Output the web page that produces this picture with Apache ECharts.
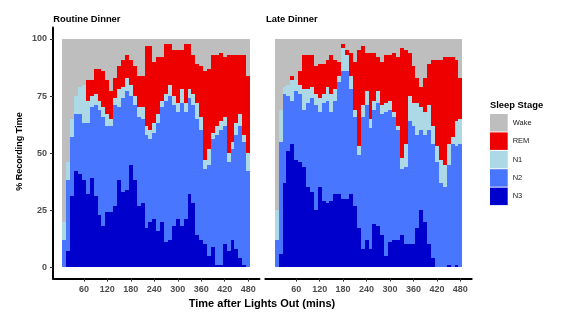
<!DOCTYPE html>
<html><head><meta charset="utf-8">
<script src="https://cdn.jsdelivr.net/npm/echarts@6/dist/echarts.min.js"></script>
<style>html,body{margin:0;padding:0;background:#fff}#c{width:561px;height:322px}</style>
</head><body><div id="c"></div>
<script>
// Time bins (minutes after lights out, bin centres, 10-min bins)
const timeMins = [10,20,30,40,50,60,70,80,90,100,110,120,130,140,150,160,170,180,190,200,210,220,230,240,250,260,270,280,290,300,310,320,330,340,350,360,370,380,390,400,410,420,430,440,450,460,470,480];
const xTickLabels = [60,120,180,240,300,360,420,480];
const yTickLabels = [0,25,50,75,100];
const panelTitles = ['Routine Dinner','Late Dinner'];
const stageNames = ['Wake','REM','N1','N2','N3'];

// Routine Dinner (% recording time per bin)
const routineN3 = [0,7,31,42,41,38,32,39,31,23,18,24,24,27,38,33,34,45,38,27,28,17,20,21,16,20,11,12,18,21,18,21,32,28,14,12,10,5,9,1,1,10,7,12,8,4,1,0];
const routineN2 = [12,31,26,25,26,25,31,31,40,46,48,38,38,44,32,41,43,30,33,39,37,41,36,38,47,50,62,63,53,47,54,47,42,43,51,48,33,40,47,57,59,52,39,40,50,58,54,42];
const routineN1 = [8,8,8,8,12,17,10,5,5,4,4,5,3,3,8,5,6,5,4,4,5,4,4,4,4,3,3,5,4,4,6,4,4,5,7,6,4,7,3,4,4,4,4,3,5,5,3,8];
const routineREM = [0,0,0,0,0,0,9,7,11,14,16,15,12,9,10,12,10,11,13,14,14,35,37,27,25,19,22,18,20,23,17,26,20,17,17,22,39,35,34,31,30,26,43,38,30,26,35,34];
const routineWake = [80,54,35,25,21,20,18,18,13,13,14,18,23,17,12,9,7,9,12,16,16,3,3,10,8,8,2,2,5,5,5,2,2,7,11,12,14,13,7,7,6,8,7,7,7,7,7,16];

// Late Dinner
const lateN3 = [0,6,37,51,54,47,46,44,35,33,25,35,29,28,29,32,32,30,30,32,27,17,8,12,8,19,18,14,5,11,12,12,14,10,10,10,17,25,20,10,4,0,0,0,1,0,1,0];
const lateN2 = [12,49,39,24,19,30,30,25,37,41,46,33,43,45,39,41,49,56,56,46,39,32,58,59,53,50,54,53,63,58,54,48,29,34,54,52,41,35,38,50,50,46,37,35,44,54,52,54];
const lateN1 = [13,14,3,5,9,5,4,9,6,5,5,6,4,6,8,5,3,10,7,6,3,4,5,6,4,4,5,4,4,4,2,2,5,10,11,10,14,10,10,11,8,7,10,10,9,3,11,11];
const lateREM = [0,0,0,0,2,0,6,15,15,14,12,15,13,12,17,13,6,2,2,10,21,42,26,17,29,21,15,19,21,20,26,30,48,41,19,16,11,9,15,18,29,38,44,47,38,35,27,18];
const lateWake = [75,31,21,20,16,18,14,7,7,7,12,11,11,9,7,9,10,2,5,6,10,5,3,6,6,6,8,10,7,7,6,8,4,5,6,12,17,21,17,11,9,9,9,8,8,8,9,17];

const stageColors = {Wake:'#BEBEBE', REM:'#EE0000', N1:'#ADD8E6', N2:'#4876FF', N3:'#0000CD'};
const FONT = '"Liberation Sans", Arial, sans-serif';
const HALF_BIN = 5;

const panels = [
  {N3:routineN3, N2:routineN2, N1:routineN1, REM:routineREM, Wake:routineWake},
  {N3:lateN3, N2:lateN2, N1:lateN1, REM:lateREM, Wake:lateWake}
];

function renderItem(params, api) {
  const t = api.value(0), lo = api.value(1), hi = api.value(2);
  if (hi <= lo) return null;
  const p0 = api.coord([t - HALF_BIN, lo]);
  const p1 = api.coord([t + HALF_BIN, hi]);
  const x0 = Math.round(p0[0]), x1 = Math.round(p1[0]);
  const y0 = Math.round(p0[1]), y1 = Math.round(p1[1]);
  return {type:'rect', shape:{x:x0, y:y1, width:x1 - x0, height:y0 - y1},
          style:{fill: api.visual('color')}};
}

const series = [];
const stackOrder = ['N3','N2','N1','REM','Wake'];
panels.forEach((p, pi) => {
  const cum = timeMins.map(() => 0);
  stackOrder.forEach(stage => {
    const data = timeMins.map((t, i) => {
      const lo = cum[i];
      const hi = lo + p[stage][i];
      cum[i] = hi;
      return [t, lo, hi];
    });
    series.push({
      type:'custom', name:stage, xAxisIndex:pi, yAxisIndex:pi,
      renderItem, data, encode:{x:0, y:[1,2]},
      itemStyle:{color:stageColors[stage]}, silent:true, animation:false
    });
  });
});

const labelStyle = {color:'#4D4D4D', fontSize:9, fontWeight:'bold', fontFamily:FONT};

function xAxis(gi) {
  return {
    type:'value', gridIndex:gi, min:-19, max:509,
    axisLine:{show:true, onZero:false, lineStyle:{color:'#000', width:2}},
    axisTick:{show:true, customValues:xTickLabels, length:3, lineStyle:{color:'#333', width:1}},
    splitLine:{show:false},
    axisLabel:Object.assign({customValues:xTickLabels, margin:6}, labelStyle)
  };
}

const option = {
  backgroundColor:'#fff',
  animation:false,
  grid:[
    {left:53, top:27.6, width:206.5, height:251},
    {left:265.3, top:27.6, width:206.4, height:251}
  ],
  xAxis:[xAxis(0), xAxis(1)],
  yAxis:[
    {type:'value', gridIndex:0, min:-5, max:105,
     axisLine:{show:true, onZero:false, lineStyle:{color:'#000', width:2}},
     axisTick:{show:true, customValues:yTickLabels, length:3, lineStyle:{color:'#333', width:1}},
     splitLine:{show:false},
     axisLabel:Object.assign({customValues:yTickLabels, margin:6}, labelStyle)},
    {type:'value', gridIndex:1, min:-5, max:105, show:false,
     axisLine:{show:false, onZero:false}, axisTick:{show:false}, splitLine:{show:false}, axisLabel:{show:false}}
  ],
  legend:{
    data:stageNames, orient:'vertical', left:490, top:114, padding:0,
    itemWidth:17.7, itemHeight:17.5, itemGap:0.9, icon:'rect', selectedMode:false,
    textStyle:{fontSize:7.5, color:'#222', fontFamily:FONT}
  },
  graphic:[
    {type:'text', x:53.3, y:19, style:{text:panelTitles[0], font:'bold 9.4px ' + FONT, fill:'#000', align:'left', verticalAlign:'middle'}},
    {type:'text', x:266, y:19, style:{text:panelTitles[1], font:'bold 9.4px ' + FONT, fill:'#000', align:'left', verticalAlign:'middle'}},
    {type:'text', x:490, y:105.5, style:{text:'Sleep Stage', font:'bold 9.4px ' + FONT, fill:'#000', align:'left', verticalAlign:'middle'}},
    {type:'text', x:262, y:304, style:{text:'Time after Lights Out (mins)', font:'bold 11px ' + FONT, fill:'#000', align:'center', verticalAlign:'middle'}},
    {type:'text', x:20, y:151.5, rotation:Math.PI/2, style:{text:'% Recording Time', font:'bold 9px ' + FONT, fill:'#000', align:'center', verticalAlign:'middle'}}
  ],
  series
};
const chart = echarts.init(document.getElementById('c'));
chart.setOption(option);
</script></body></html>
